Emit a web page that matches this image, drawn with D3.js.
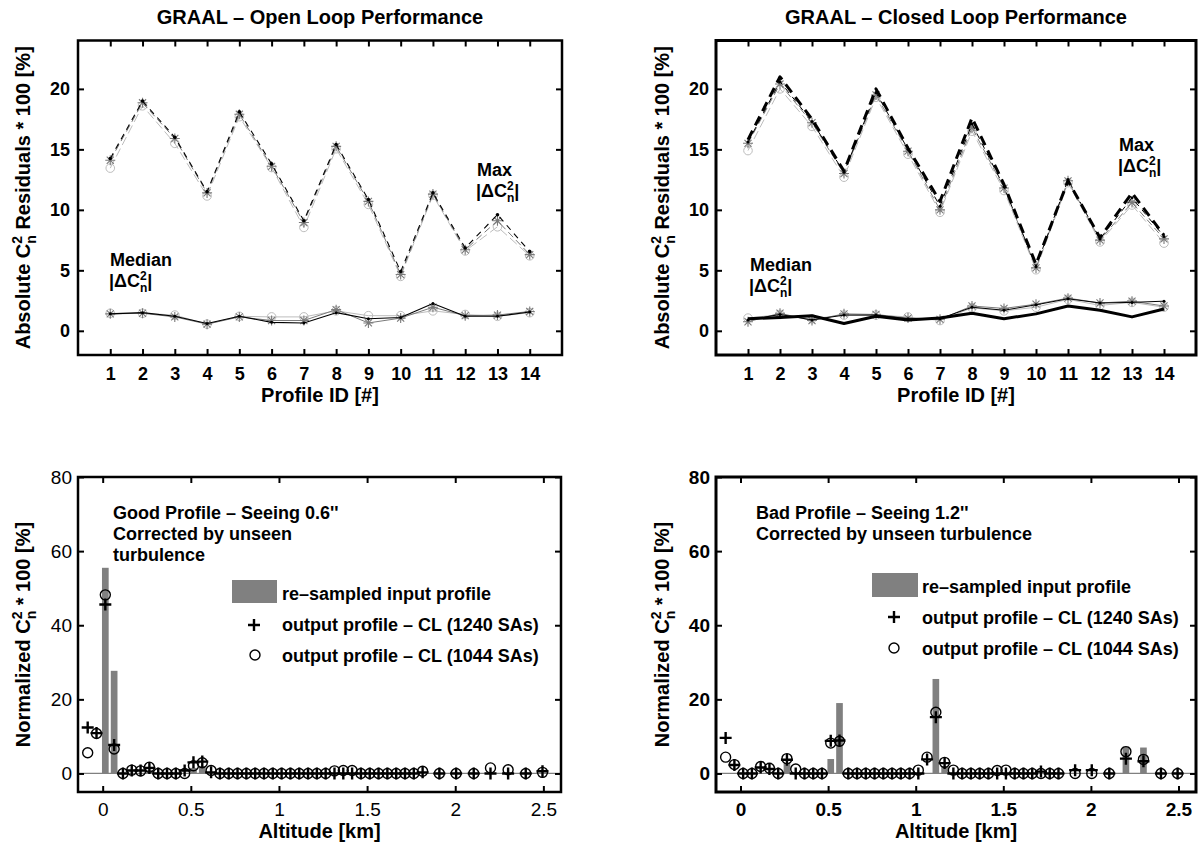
<!DOCTYPE html>
<html>
<head>
<meta charset="utf-8">
<script src="https://cdn.jsdelivr.net/npm/d3@7"></script>
<style>
  body { margin: 0; background: #fff; }
  svg { display: block; font-family: "Liberation Sans", Arial, Helvetica, sans-serif; }
</style>
</head>
<body>
<svg id="fig" width="1203" height="845"></svg>
<script>
// ---------- GRAAL residuals per profile ----------
const profileIds = [1, 2, 3, 4, 5, 6, 7, 8, 9, 10, 11, 12, 13, 14];

// Open loop: max |dCn2|
const olMaxBlack = [14.25, 19.0, 16.0, 11.5, 18.1, 13.8, 9.1, 15.4, 10.85, 4.9, 11.4, 6.85, 9.6, 6.55];
const olMaxGray  = [14.1, 18.85, 15.9, 11.4, 17.9, 13.6, 8.95, 15.25, 10.7, 4.65, 11.3, 6.7, 9.1, 6.3];
const olMaxLight = [13.45, 18.6, 15.5, 11.15, 17.7, 13.5, 8.55, 15.05, 10.45, 4.5, 11.2, 6.6, 8.6, 6.2];
// Open loop: median |dCn2|
const olMedBlack = [1.4, 1.5, 1.2, 0.6, 1.2, 0.7, 0.65, 1.5, 1.0, 1.1, 2.25, 1.2, 1.2, 1.55];
const olMedGray  = [1.4, 1.45, 1.15, 0.55, 1.15, 0.85, 0.85, 1.75, 0.65, 1.05, 1.95, 1.25, 1.3, 1.6];
const olMedLight = [1.45, 1.45, 1.3, 0.55, 1.2, 1.15, 1.15, 1.65, 1.25, 1.25, 1.65, 1.35, 1.2, 1.5];

// Closed loop: max |dCn2|
const clMaxThick = [15.8, 21.0, 17.5, 13.2, 20.0, 15.1, 10.7, 17.6, 12.1, 5.5, 12.4, 7.7, 11.4, 7.9];
const clMaxBlack = [15.6, 20.6, 17.3, 13.1, 19.7, 15.0, 10.3, 17.1, 11.9, 5.3, 12.5, 7.6, 11.0, 7.8];
const clMaxGray  = [15.5, 20.4, 17.2, 13.0, 19.5, 14.85, 10.0, 16.8, 11.8, 5.2, 12.4, 7.5, 10.6, 7.6];
const clMaxLight = [14.9, 20.0, 16.9, 12.7, 19.3, 14.6, 9.8, 16.5, 11.6, 5.05, 12.25, 7.35, 10.4, 7.25];
// Closed loop: median |dCn2|
const clMedThick = [1.0, 1.1, 1.25, 0.6, 1.2, 0.9, 1.05, 1.45, 1.0, 1.4, 2.05, 1.7, 1.15, 1.8];
const clMedBlack = [0.9, 1.35, 0.9, 1.3, 1.3, 1.0, 1.0, 1.95, 1.7, 2.15, 2.65, 2.3, 2.35, 2.45];
const clMedGray  = [0.75, 1.45, 0.85, 1.4, 1.35, 1.05, 0.95, 2.05, 1.85, 2.2, 2.7, 2.3, 2.45, 2.05];
const clMedLight = [1.05, 1.35, 1.0, 1.3, 1.3, 1.15, 0.85, 1.9, 1.65, 1.95, 2.6, 2.1, 2.35, 1.95];

const residualTicks = [0, 5, 10, 15, 20];

// ---------- Reconstructed Cn2 profiles ----------
const altitudes = [-0.085, -0.035, 0.015, 0.065, 0.115, 0.165, 0.215, 0.265, 0.315, 0.365,
                   0.415, 0.465, 0.515, 0.565, 0.615, 0.665, 0.715, 0.765, 0.815, 0.865,
                   0.915, 0.965, 1.015, 1.065, 1.115, 1.165, 1.215, 1.265, 1.315, 1.365,
                   1.415, 1.465, 1.515, 1.565, 1.615, 1.665, 1.715, 1.765, 1.815, 1.91,
                   2.005, 2.105, 2.2, 2.3, 2.4, 2.495];

// Good profile (seeing 0.6")
const goodInput = [0, 0, 55.5, 27.7, 0, 0, 0, 1.0, 0, 0, 0, 0, 1.5, 2.0, 0, 0, 0, 0, 0, 0,
                   0, 0, 0, 0, 0, 0, 0, 0, 0, 0, 0, 0, 0, 0, 0, 0, 0, 0, 0, 0,
                   0, 0, 0, 0, 0, 0];
const good1240  = [12.4, 10.9, 45.6, 7.7, 0, 0.8, 0.8, 1.5, 0, 0, 0, 0.8, 3.0, 3.2, 0.3, 0, 0, 0, 0, 0,
                   0, 0, 0, 0, 0, 0, 0, 0, 0, 0, 0, 0, 0, 0, 0, 0, 0, 0, 0.3, 0,
                   0, 0, 0, 0, 0, 0.6];
const good1044  = [5.6, 10.8, 48.2, 6.6, 0, 0.9, 0.7, 1.7, 0, 0, 0, 0, 2.1, 2.9, 0.8, 0, 0, 0, 0, 0,
                   0, 0, 0, 0, 0, 0, 0, 0, 0.7, 0.8, 0.8, 0, 0, 0, 0, 0, 0, 0, 0.6, 0,
                   0, 0, 1.5, 1.0, 0, 0.3];

// Bad profile (seeing 1.2")
const badInput  = [0, 0, 0, 0, 0, 0, 0, 2.8, 0, 0, 0, 0, 3.9, 19.0, 0, 0, 0, 0, 0, 0,
                   0, 0, 0, 0, 25.5, 2.0, 0, 0, 0, 0, 0, 0, 0, 0, 0, 0, 0, 0, 0, 0,
                   0, 0, 7.3, 7.0, 0, 0];
const bad1240   = [9.6, 2.3, 0, 0, 1.6, 1.2, 0, 3.7, 0, 0, 0, 0, 8.8, 8.9, 0, 0, 0, 0, 0, 0,
                   0, 0, 0, 3.8, 15.2, 2.8, 0, 0, 0, 0, 0, 0, 0, 0, 0, 0, 0.5, 0, 0, 0.9,
                   0.9, 0, 4.0, 3.3, 0, 0];
const bad1044   = [4.4, 2.4, 0, 0, 1.9, 1.4, 0, 4.0, 1.2, 0, 0, 0, 8.2, 8.7, 0, 0, 0, 0, 0, 0,
                   0, 0, 0.9, 4.4, 16.5, 3.0, 0.9, 0, 0, 0, 0, 0.8, 0.9, 0, 0, 0, 0, 0, 0, 0,
                   0, 0, 5.9, 3.8, 0, 0];

const altitudeTicks = [0, 0.5, 1, 1.5, 2, 2.5];
const profileTicks = [0, 20, 40, 60, 80];

// ---------- drawing ----------
const svg = d3.select("#fig");
const BLACK = "#000", GRAY = "#7a7a7a", LIGHT = "#bdbdbd", BAR = "#808080";

function makeFrame(box, xDom, yDom) {
  return {
    box,
    x: d3.scaleLinear(xDom, [box.left, box.right]),
    y: d3.scaleLinear(yDom, [box.bottom, box.top]),
    g: svg.append("g")
  };
}

function drawAxes(f, xTicks, yTicks, opts) {
  const { box, x, y, g } = f;
  const weight = opts.bold ? "bold" : "normal";
  const fmt = d => d3.format("")(d);
  const styleAxis = sel => {
    sel.select(".domain").remove();
    sel.selectAll(".tick line").attr("stroke", "#000").attr("stroke-width", 2);
    sel.selectAll(".tick text").attr("fill", "#000")
      .attr("font-size", opts.fontSize).attr("font-weight", weight)
      .attr("font-family", '"Liberation Sans", Arial, Helvetica, sans-serif');
  };
  g.append("g").attr("transform", `translate(0,${box.bottom})`)
    .call(d3.axisBottom(x).tickValues(xTicks).tickSize(-6).tickPadding(opts.xPad).tickFormat(fmt))
    .call(styleAxis);
  g.append("g").attr("transform", `translate(0,${box.top})`)
    .call(d3.axisTop(x).tickValues(xTicks).tickSize(-6).tickFormat(""))
    .call(styleAxis);
  g.append("g").attr("transform", `translate(${box.left},0)`)
    .call(d3.axisLeft(y).tickValues(yTicks).tickSize(-6).tickPadding(opts.yPad).tickFormat(fmt))
    .call(styleAxis);
  g.append("g").attr("transform", `translate(${box.right},0)`)
    .call(d3.axisRight(y).tickValues(yTicks).tickSize(-6).tickFormat(""))
    .call(styleAxis);
  g.append("rect")
    .attr("x", box.left).attr("y", box.top)
    .attr("width", box.right - box.left).attr("height", box.bottom - box.top)
    .attr("fill", "none").attr("stroke", "#000").attr("stroke-width", opts.frameWidth);
}

// Text "C" with stacked superscript 2 and subscript n
function cn2Text(sel, before, after, size) {
  const small = Math.round(size * 0.7);
  const w2 = small * 0.556;
  sel.append("tspan").text(before + "C");
  sel.append("tspan").attr("font-size", small).attr("dy", -size * 0.42).text("2");
  sel.append("tspan").attr("font-size", small).attr("dx", -w2).attr("dy", size * 0.72).text("n");
  sel.append("tspan").attr("dy", -size * 0.30).text(after);
}

function yLabel(f, cx, text, after) {
  const cy = (f.box.top + f.box.bottom) / 2;
  const t = svg.append("text")
    .attr("transform", `translate(${cx},${cy}) rotate(-90)`)
    .attr("text-anchor", "middle").attr("font-size", 20).attr("font-weight", "bold");
  cn2Text(t, text, after, 20);
}

function xLabel(f, baseline, text) {
  svg.append("text")
    .attr("x", (f.box.left + f.box.right) / 2).attr("y", baseline)
    .attr("text-anchor", "middle").attr("font-size", 20).attr("font-weight", "bold")
    .text(text);
}

function title(f, text) {
  svg.append("text")
    .attr("x", (f.box.left + f.box.right) / 2).attr("y", 24)
    .attr("text-anchor", "middle").attr("font-size", 20).attr("font-weight", "bold")
    .text(text);
}

// Two-line annotation: a word above |ΔCn2|
function deltaLabel(x, y, word) {
  svg.append("text").attr("x", x).attr("y", y)
    .attr("font-size", 18).attr("font-weight", "bold").text(word);
  const t = svg.append("text").attr("x", x - 1).attr("y", y + 21)
    .attr("font-size", 18).attr("font-weight", "bold");
  t.append("tspan").text("|\u0394C");
  t.append("tspan").attr("font-size", 12).attr("dy", -7).text("2");
  t.append("tspan").attr("font-size", 12).attr("dx", -6.7).attr("dy", 12).text("n");
  t.append("tspan").attr("dy", -5).text("|");
}

// markers
function asterisk(g, cx, cy, r, color) {
  const d = [];
  for (let k = 0; k < 4; k++) {
    const a = k * Math.PI / 4;
    const dx = r * Math.cos(a), dy = r * Math.sin(a);
    d.push(`M${cx - dx},${cy - dy}L${cx + dx},${cy + dy}`);
  }
  g.append("path").attr("d", d.join("")).attr("stroke", color).attr("stroke-width", 1.1).attr("fill", "none");
}
function plus(g, cx, cy, r, color, w) {
  g.append("path").attr("d", `M${cx - r},${cy}H${cx + r}M${cx},${cy - r}V${cy + r}`)
    .attr("stroke", color).attr("stroke-width", w).attr("fill", "none");
}
function ring(g, cx, cy, r, color, w) {
  g.append("circle").attr("cx", cx).attr("cy", cy).attr("r", r)
    .attr("fill", "none").attr("stroke", color).attr("stroke-width", w);
}
function dot(g, cx, cy, r, color) {
  g.append("circle").attr("cx", cx).attr("cy", cy).attr("r", r).attr("fill", color);
}

function series(f, vals, st) {
  const line = d3.line().x((d, i) => f.x(profileIds[i])).y(d => f.y(d));
  const p = f.g.append("path").attr("d", line(vals))
    .attr("fill", "none").attr("stroke", st.color).attr("stroke-width", st.width)
    .attr("stroke-linejoin", "round");
  if (st.dash) p.attr("stroke-dasharray", st.dash);
  vals.forEach((v, i) => {
    const cx = f.x(profileIds[i]), cy = f.y(v);
    if (st.marker === "circle") ring(f.g, cx, cy, 4.3, st.color, 1);
    if (st.marker === "star") asterisk(f.g, cx, cy, 5, st.color);
    if (st.marker === "dot") dot(f.g, cx, cy, st.dotR || 1.8, st.color);
  });
}

// ---------- top-left: open loop ----------
const fOL = makeFrame({ left: 78, right: 562, top: 40.5, bottom: 355 }, [0, 15], [-2, 24]);
series(fOL, olMaxLight, { color: LIGHT, width: 1, dash: "9,4", marker: "circle" });
series(fOL, olMaxGray,  { color: GRAY,  width: 1, dash: "7,4", marker: "star" });
series(fOL, olMaxBlack, { color: BLACK, width: 1.1, dash: "6,5", marker: "dot" });
series(fOL, olMedLight, { color: LIGHT, width: 1, marker: "circle" });
series(fOL, olMedGray,  { color: GRAY,  width: 1, marker: "star" });
series(fOL, olMedBlack, { color: BLACK, width: 1.1, marker: "dot", dotR: 1.5 });
drawAxes(fOL, profileIds, residualTicks, { bold: true, fontSize: 18, xPad: 12, yPad: 8, frameWidth: 2.5 });
title(fOL, "GRAAL \u2013 Open Loop Performance");
yLabel(fOL, 30, "Absolute ", " Residuals * 100 [%]");
xLabel(fOL, 402, "Profile ID [#]");
deltaLabel(110, 266, "Median");
deltaLabel(477, 176, "Max");

// ---------- top-right: closed loop ----------
const fCL = makeFrame({ left: 716, right: 1196, top: 40.5, bottom: 355 }, [0, 15], [-2, 24]);
series(fCL, clMaxLight, { color: LIGHT, width: 1, dash: "9,4", marker: "circle" });
series(fCL, clMaxGray,  { color: GRAY,  width: 1, dash: "7,4", marker: "star" });
series(fCL, clMaxBlack, { color: BLACK, width: 1, dash: "6,5", marker: "dot", dotR: 1.5 });
series(fCL, clMaxThick, { color: BLACK, width: 3, dash: "10,6" });
series(fCL, clMedLight, { color: LIGHT, width: 1, marker: "circle" });
series(fCL, clMedGray,  { color: GRAY,  width: 1, marker: "star" });
series(fCL, clMedBlack, { color: BLACK, width: 1, marker: "dot", dotR: 1.5 });
series(fCL, clMedThick, { color: BLACK, width: 3 });
drawAxes(fCL, profileIds, residualTicks, { bold: true, fontSize: 18, xPad: 12, yPad: 7, frameWidth: 3 });
title(fCL, "GRAAL \u2013 Closed Loop Performance");
yLabel(fCL, 669, "Absolute ", " Residuals * 100 [%]");
xLabel(fCL, 402, "Profile ID [#]");
deltaLabel(750, 271, "Median");
deltaLabel(1119, 151, "Max");

// ---------- bottom panels: profiles ----------
const BAR_W = 0.038;
function profilePanel(f, input, out1240, out1044) {
  const { x, y, g } = f;
  g.append("line").attr("x1", f.box.left).attr("x2", f.box.right)
    .attr("y1", y(0)).attr("y2", y(0)).attr("stroke", BAR).attr("stroke-width", 1.2);
  g.selectAll("rect.bar").data(altitudes.map((a, i) => ({ a, v: input[i] })).filter(d => d.v > 0))
    .join("rect").attr("class", "bar")
    .attr("x", d => x(d.a - BAR_W / 2)).attr("width", d => x(d.a + BAR_W / 2) - x(d.a - BAR_W / 2))
    .attr("y", d => y(d.v)).attr("height", d => y(0) - y(d.v))
    .attr("fill", BAR);
  altitudes.forEach((a, i) => ring(g, x(a), y(out1044[i]), 5, BLACK, 1.4));
  altitudes.forEach((a, i) => plus(g, x(a), y(out1240[i]), 6, BLACK, 2.4));
}

function legend(g, lx, ly, rectBox) {
  g.append("rect").attr("x", rectBox[0]).attr("y", rectBox[1])
    .attr("width", rectBox[2]).attr("height", rectBox[3]).attr("fill", BAR);
  const labels = ["re\u2013sampled input profile", "output profile \u2013 CL (1240 SAs)", "output profile \u2013 CL (1044 SAs)"];
  labels.forEach((s, i) => {
    g.append("text").attr("x", lx).attr("y", ly[i]).attr("font-size", 18).attr("font-weight", "bold").text(s);
  });
}

const fGood = makeFrame({ left: 78, right: 561, top: 477, bottom: 792 }, [-0.14, 2.6], [-5, 80]);
profilePanel(fGood, goodInput, good1240, good1044);
drawAxes(fGood, altitudeTicks, profileTicks, { bold: false, fontSize: 19, xPad: 11, yPad: 6, frameWidth: 2.5 });
legend(fGood.g, 282, [600, 631, 662], [232, 580, 45, 23]);
plus(fGood.g, 254, 625, 6, BLACK, 2.4);
ring(fGood.g, 255, 655, 5, BLACK, 1.4);
[["Good Profile \u2013 Seeing 0.6''", 519], ["Corrected by unseen", 540], ["turbulence", 561]].forEach(([s, yb]) =>
  svg.append("text").attr("x", 113).attr("y", yb).attr("font-size", 18).attr("font-weight", "bold").text(s));
yLabel(fGood, 30, "Normalized ", " * 100 [%]");
xLabel(fGood, 838, "Altitude [km]");

const fBad = makeFrame({ left: 716, right: 1196, top: 477, bottom: 792 }, [-0.14, 2.6], [-5, 80]);
profilePanel(fBad, badInput, bad1240, bad1044);
drawAxes(fBad, altitudeTicks, profileTicks, { bold: true, fontSize: 19, xPad: 11, yPad: 6, frameWidth: 3 });
legend(fBad.g, 922, [593, 624, 655], [872, 573, 46, 24]);
plus(fBad.g, 894, 617, 6, BLACK, 2.4);
ring(fBad.g, 894, 648, 5, BLACK, 1.4);
[["Bad Profile \u2013 Seeing 1.2''", 519], ["Corrected by unseen turbulence", 540]].forEach(([s, yb]) =>
  svg.append("text").attr("x", 756).attr("y", yb).attr("font-size", 18).attr("font-weight", "bold").text(s));
yLabel(fBad, 669, "Normalized ", " * 100 [%]");
xLabel(fBad, 838, "Altitude [km]");
</script>
</body>
</html>
